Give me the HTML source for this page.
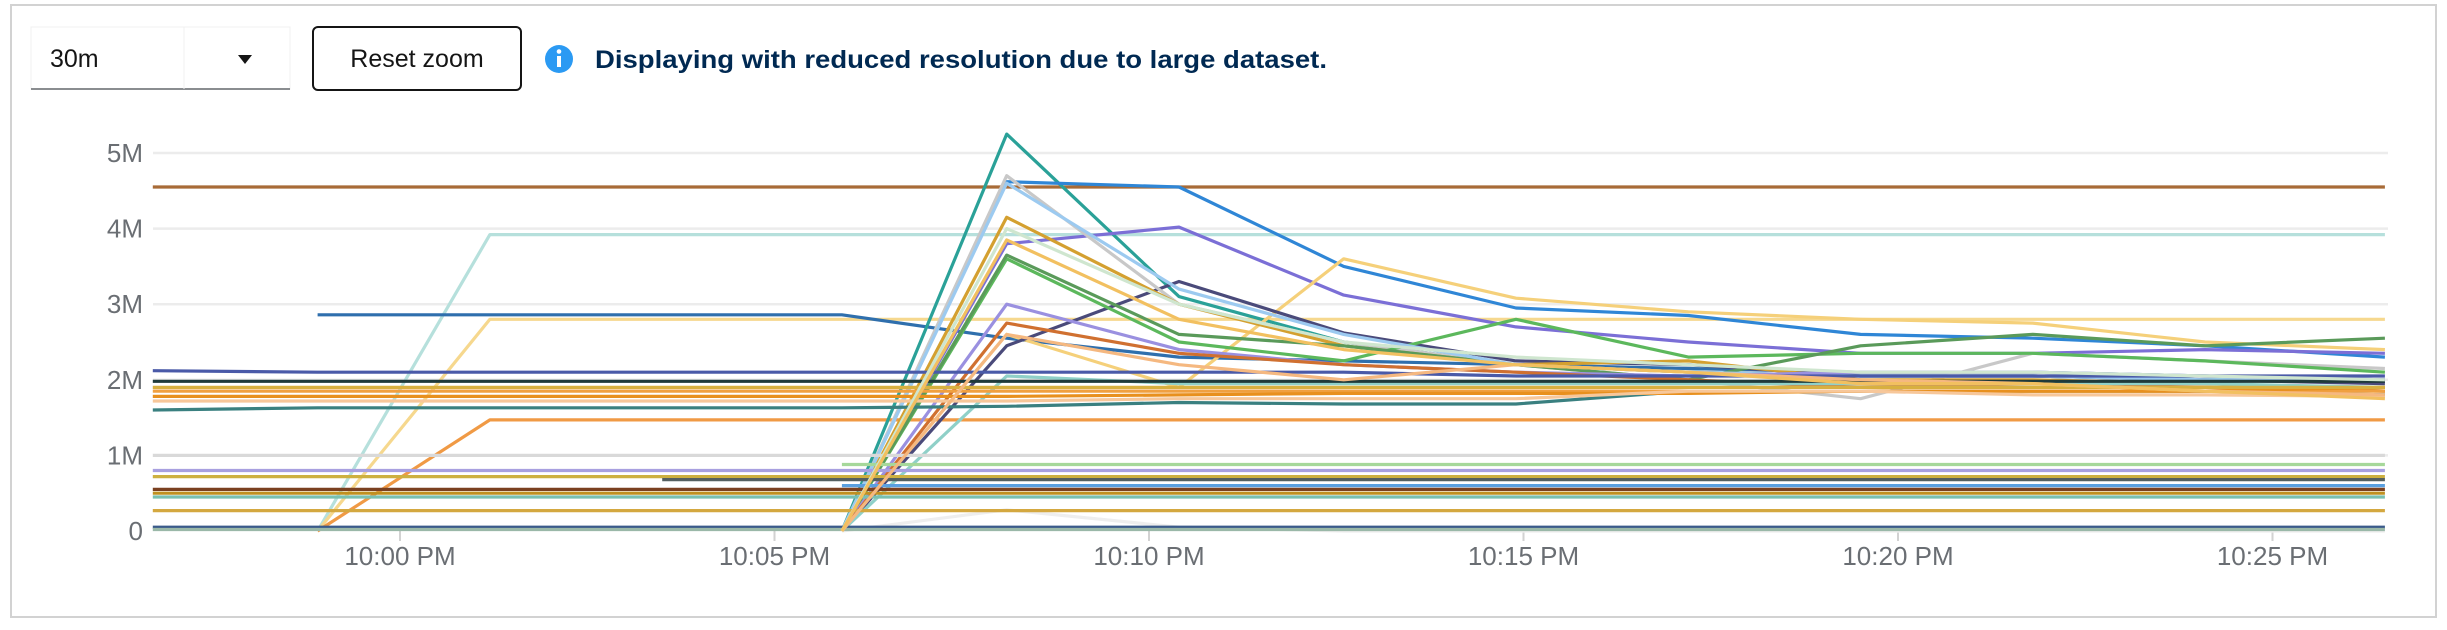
<!DOCTYPE html>
<html><head><meta charset="utf-8">
<style>
html,body{margin:0;padding:0;background:#fff;}
body{width:2447px;height:625px;overflow:hidden;font-family:"Liberation Sans",sans-serif;}
</style></head>
<body>
<svg id="root" width="2447" height="625" xmlns="http://www.w3.org/2000/svg">
  <rect x="11" y="5" width="2425" height="612" fill="#fff" stroke="#d2d2d2" stroke-width="2"/>
  <g>
    <rect x="31" y="27" width="259" height="62" fill="#fff" stroke="#f0f0f0" stroke-width="1"/>
    <line x1="31" y1="89" x2="290" y2="89" stroke="#8a8d90" stroke-width="2"/>
    <line x1="184" y1="27" x2="184" y2="89" stroke="#f0f0f0" stroke-width="1"/>
    <text x="50" y="67" font-size="25" fill="#151515">30m</text>
    <path d="M238 55 L252 55 L245 64 Z" fill="#151515"/>
  </g>
  <g>
    <rect x="313" y="27" width="208" height="63" rx="5" fill="#fff" stroke="#151515" stroke-width="2"/>
    <text x="417" y="67" font-size="25" text-anchor="middle" fill="#151515">Reset zoom</text>
  </g>
  <g>
    <circle cx="559" cy="59" r="14" fill="#2b9af3"/>
    <circle cx="559" cy="51.5" r="2.3" fill="#fff"/>
    <rect x="557" y="56" width="4" height="11" fill="#fff"/>
  </g>
  <text x="595" y="68" font-size="25" font-weight="bold" fill="#002952" textLength="732" lengthAdjust="spacingAndGlyphs">Displaying with reduced resolution due to large dataset.</text>
  <g id="grid"></g>
  <g id="axes"></g>
  <g id="series"></g>
</svg>
<script>
// ---- data (values in millions) ----
const categories = [-3.3, -1.1, 1.2, 3.5, 5.9, 8.1, 10.4, 12.6, 14.9, 17.2, 19.5, 21.8, 24.1, 26.5]; // minutes after 10:00 PM
const yTicks = [0, 1, 2, 3, 4, 5];
const yTickLabels = ["0", "1M", "2M", "3M", "4M", "5M"];
const xTicks = [0, 5, 10, 15, 20, 25];
const xTickLabels = ["10:00 PM", "10:05 PM", "10:10 PM", "10:15 PM", "10:20 PM", "10:25 PM"];
const N = null;
const seriesNames = ["s-brown","s-lightteal","s-lightyellow","s-orange","s-steelblue","s-teal-spike","s-blue","s-purple","s-yellow2","s-slate","s-gray","s-gold","s-green","s-darkgreen","s-lightblue","s-lavender","s-orangebrown","s-paleteal","s-navy","s-black","s-darkteal","s-orange2","s-orange3","s-peach","s-gold2","s-white-spike","s-gray1m","s-lightgreen","s-lav08","s-gold07","s-dk07","s-blue06","s-brn055","s-olive05","s-teal045","s-gold027","s-navy005","s-sage002","s-mint","s-peach2","s-amber"];
const seriesColors = ["#a86b37","#b6e0dc","#f6d88e","#f09a45","#2f6fad","#2aa198","#2f86d6","#7b6fd6","#f5d07a","#4a4a7a","#c8c8c8","#d4a030","#5cb85c","#5a9a5a","#9ccaf0","#9a90e0","#d07030","#8fd0c8","#4a5aa8","#1f3a3a","#3a8080","#f0a040","#e8901e","#f7c79a","#d8b040","#eeeeee","#d9d9d9","#a6d89a","#a8a0e0","#cdb040","#556060","#5aa0e0","#7a4020","#c09020","#7ac0b0","#d4a840","#3a5a8a","#9ab8a8","#cfe6cf","#f5b880","#f2c060"];
const seriesValues = [
 [4.55,4.55,4.55,4.55,4.55,4.55,4.55,4.55,4.55,4.55,4.55,4.55,4.55,4.55],
 [N,0,3.92,3.92,3.92,3.92,3.92,3.92,3.92,3.92,3.92,3.92,3.92,3.92],
 [N,0,2.8,2.8,2.8,2.8,2.8,2.8,2.8,2.8,2.8,2.8,2.8,2.8],
 [N,0,1.47,1.47,1.47,1.47,1.47,1.47,1.47,1.47,1.47,1.47,1.47,1.47],
 [N,2.86,2.86,2.86,2.86,2.55,2.3,2.25,2.2,2.15,2.1,2.1,2.05,2.0],
 [N,N,N,N,0,5.25,3.1,2.5,2.2,2.1,2.05,2.05,2.0,2.0],
 [N,N,N,N,0,4.62,4.55,3.5,2.95,2.85,2.6,2.55,2.45,2.3],
 [N,N,N,N,0,3.8,4.02,3.12,2.7,2.5,2.35,2.35,2.4,2.35],
 [N,N,N,N,0,2.6,1.9,3.6,3.08,2.9,2.8,2.75,2.5,2.4],
 [N,N,N,N,0,2.45,3.3,2.62,2.25,2.2,2.05,2.05,2.0,1.95],
 [N,N,N,N,0,4.7,3.0,2.5,2.2,2.0,1.75,2.35,2.25,2.15],
 [N,N,N,N,0,4.15,3.0,2.45,2.2,2.25,2.0,2.0,1.95,1.85],
 [N,N,N,N,0,3.6,2.5,2.25,2.8,2.3,2.35,2.35,2.25,2.1],
 [N,N,N,N,0,3.65,2.6,2.45,2.2,2.0,2.45,2.6,2.45,2.55],
 [N,N,N,N,0,4.6,3.2,2.6,2.2,2.1,2.05,2.05,2.0,2.0],
 [N,N,N,N,0,3.0,2.4,2.2,2.1,2.05,2.1,2.1,2.05,2.0],
 [N,N,N,N,0,2.75,2.35,2.2,2.1,2.0,1.9,1.95,1.9,1.85],
 [N,N,N,N,0,2.05,1.95,1.95,1.95,1.95,1.95,1.95,1.95,1.9],
 [2.12,2.1,2.1,2.1,2.1,2.1,2.1,2.1,2.05,2.05,2.05,2.05,2.05,2.05],
 [1.98,1.98,1.98,1.98,1.98,1.98,1.98,1.98,1.98,1.98,1.98,1.98,1.98,1.98],
 [1.6,1.63,1.63,1.63,1.63,1.65,1.7,1.68,1.68,1.85,1.85,1.85,1.85,1.8],
 [1.85,1.85,1.85,1.85,1.85,1.85,1.85,1.85,1.85,1.85,1.85,1.85,1.85,1.85],
 [1.78,1.78,1.78,1.78,1.78,1.78,1.8,1.82,1.82,1.82,1.85,1.85,1.85,1.9],
 [1.72,1.72,1.72,1.72,1.72,1.72,1.75,1.75,1.75,1.85,1.85,1.8,1.8,1.78],
 [1.9,1.9,1.9,1.9,1.9,1.9,1.9,1.9,1.9,1.9,1.9,1.9,1.9,1.9],
 [N,N,N,N,0,0.28,0.05,0,0,0,0,0,0,0],
 [1.0,1.0,1.0,1.0,1.0,1.0,1.0,1.0,1.0,1.0,1.0,1.0,1.0,1.0],
 [N,N,N,N,0.88,0.88,0.88,0.88,0.88,0.88,0.88,0.88,0.88,0.88],
 [0.8,0.8,0.8,0.8,0.8,0.8,0.8,0.8,0.8,0.8,0.8,0.8,0.8,0.8],
 [0.72,0.72,0.72,0.72,0.72,0.72,0.72,0.72,0.72,0.72,0.72,0.72,0.72,0.72],
 [N,N,N,0.68,0.68,0.68,0.68,0.68,0.68,0.68,0.68,0.68,0.68,0.68],
 [N,N,N,N,0.6,0.6,0.6,0.6,0.6,0.6,0.6,0.6,0.6,0.6],
 [0.55,0.55,0.55,0.55,0.55,0.55,0.55,0.55,0.55,0.55,0.55,0.55,0.55,0.55],
 [0.5,0.5,0.5,0.5,0.5,0.5,0.5,0.5,0.5,0.5,0.5,0.5,0.5,0.5],
 [0.45,0.45,0.45,0.45,0.45,0.45,0.45,0.45,0.45,0.45,0.45,0.45,0.45,0.45],
 [0.27,0.27,0.27,0.27,0.27,0.27,0.27,0.27,0.27,0.27,0.27,0.27,0.27,0.27],
 [0.05,0.05,0.05,0.05,0.05,0.05,0.05,0.05,0.05,0.05,0.05,0.05,0.05,0.05],
 [0.02,0.02,0.02,0.02,0.02,0.02,0.02,0.02,0.02,0.02,0.02,0.02,0.02,0.02],
 [N,N,N,N,0,4.0,3.0,2.5,2.3,2.2,2.1,2.1,2.05,2.0],
 [N,N,N,N,0,2.6,2.2,2.0,2.2,2.1,2.0,1.95,1.85,1.8],
 [N,N,N,N,0,3.85,2.8,2.4,2.2,2.1,1.95,1.95,1.85,1.75]
];
// ---- axis functions ----
const PX0 = 153, PX1 = 2388, PY0 = 531, PY1 = 153;
function xScale(m){ return 400 + m * 74.9; }
function yScale(v){ return PY0 - v * 75.6; }
const NS = "http://www.w3.org/2000/svg";
function mk(tag, attrs, parent){ const e = document.createElementNS(NS, tag); for (const k in attrs) e.setAttribute(k, attrs[k]); parent.appendChild(e); return e; }
const grid = document.getElementById('grid'), axes = document.getElementById('axes'), sg = document.getElementById('series');
yTicks.forEach((t, i) => {
  const y = yScale(t);
  if (t > 0) {
    const l = mk('line', {x1: PX0, x2: PX1, y1: y, y2: y, stroke: '#ececec', 'stroke-width': 2.5}, grid);
    
    
  }
  const tx = mk('text', {x: 143, y: y + 9, 'font-size': 26, 'text-anchor': 'end', fill: '#6a6e73'}, axes);
  tx.textContent = yTickLabels[i];
  
  
});
xTicks.forEach((t, i) => {
  const x = xScale(t);
  const tk = mk('line', {x1: x, x2: x, y1: PY0, y2: PY0 + 10, stroke: '#d2d2d2', 'stroke-width': 2}, axes);
  
  
  const tx = mk('text', {x: x, y: 565, 'font-size': 26, 'text-anchor': 'middle', fill: '#6a6e73'}, axes);
  tx.textContent = xTickLabels[i];
  
  
});
seriesValues.forEach((vals, si) => {
  let d = '', pen = false;
  vals.forEach((v, i) => {
    if (v === null) { pen = false; return; }
    let m = categories[i];
    d += (pen ? 'L' : 'M') + xScale(m).toFixed(1) + ' ' + yScale(v).toFixed(1) + ' ';
    pen = true;
  });
  const p = mk('path', {d: d, fill: 'none', stroke: seriesColors[si], 'stroke-width': 3.2, 'stroke-linejoin': 'round'}, sg);
  
  
});
</script>
</body></html>
